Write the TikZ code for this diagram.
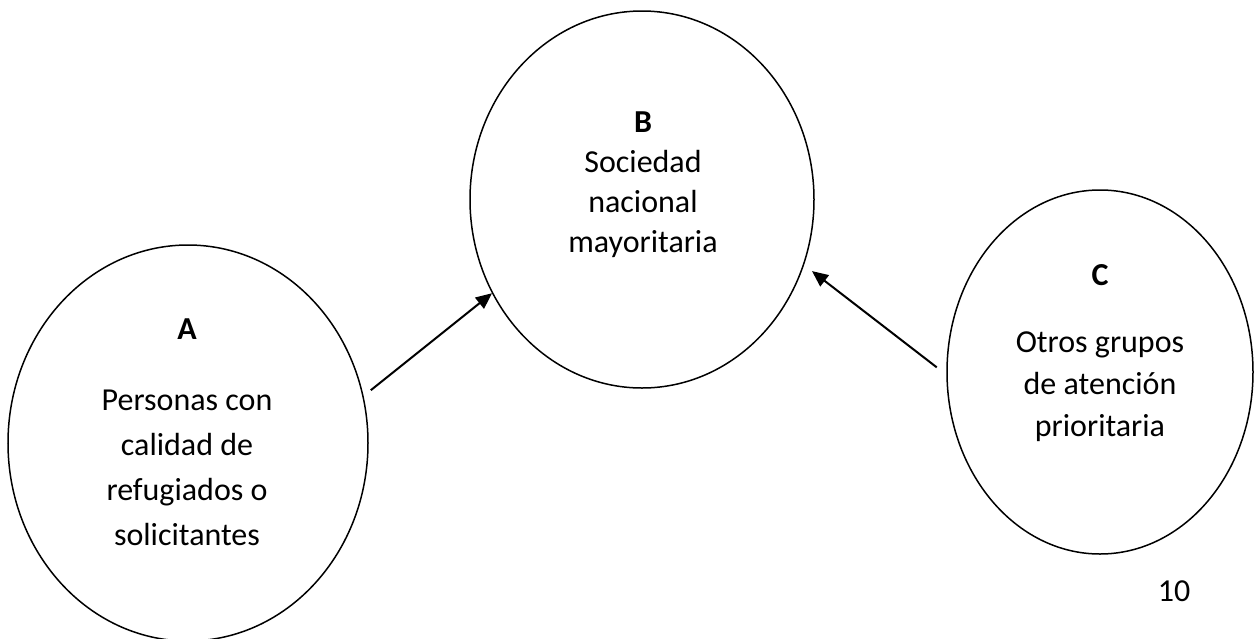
\documentclass[tikz,border=0pt]{standalone}
\usepackage{fontspec}
\setmainfont{Carlito}
\usetikzlibrary{shapes,arrows.meta}

\begin{document}
\begin{tikzpicture}[x=0.5pt,y=-0.5pt,
  grupo/.style={draw, ellipse, line width=0.75pt, inner sep=0pt},
  rotulo/.style={align=center, font=\fontsize{16}{21}\selectfont},
  flecha/.style={line width=1pt, -{Triangle[length=8pt,width=7pt]}}]
\useasboundingbox (0,0) rectangle (1254,638);
% los tres grupos
\node[grupo, minimum width=180pt, minimum height=198pt] (A) at (188,443) {};
\node[grupo, minimum width=172pt, minimum height=188.5pt] (B) at (642,199.5) {};
\node[grupo, minimum width=153pt, minimum height=182pt] (C) at (1100,372) {};
\node[rotulo, font=\fontsize{16}{22.5}\selectfont] (Atxt) at (187,432) {\textbf{A}\\[13pt]Personas con\\calidad de\\refugiados o\\solicitantes};
\node[rotulo, font=\fontsize{16}{20}\selectfont] (Btxt) at (643,185) {\textbf{B}\\Sociedad\\nacional\\mayoritaria};
\node[rotulo] (Ctxt) at (1100,353) {\textbf{C}\\[12.5pt]Otros grupos\\de atención\\prioritaria};
\node[rotulo, anchor=base] (pag) at (1174,601) {10};
% flechas hacia B
\draw[flecha, shorten <=4.6pt] (A.15) -- (B.212);
\draw[flecha, shorten <=6pt, shorten >=5pt] (C.181) -- (B.-22);
\end{tikzpicture}
\end{document}
